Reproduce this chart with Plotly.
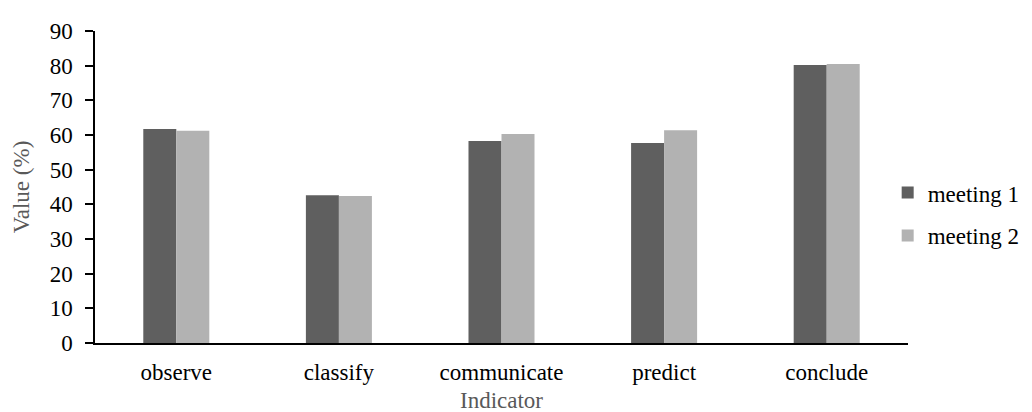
import plotly.graph_objects as go

categories = ["observe", "classify", "communicate", "predict", "conclude"]
meeting1 = [61.7, 42.6, 58.3, 57.7, 80.2]
meeting2 = [61.2, 42.4, 60.3, 61.4, 80.5]
series_names = ["meeting 1", "meeting 2"]
y_ticks = list(range(0, 91, 10))

FONT = "Liberation Serif"

fig = go.Figure()
fig.add_trace(go.Bar(x=categories, y=meeting1, name=series_names[0],
                     marker=dict(color="#5f5f5f", line=dict(width=0)),
                     legendgroup="a"))
fig.add_trace(go.Bar(x=categories, y=meeting2, name=series_names[1],
                     marker=dict(color="#b2b2b2", line=dict(width=0)),
                     legendgroup="b"))

fig.update_layout(
    width=1032, height=412,
    margin=dict(l=87, r=132, t=23, b=77, autoexpand=False),
    paper_bgcolor="white", plot_bgcolor="white",
    font=dict(family=FONT, size=23, color="black"),
    barmode="group", bargap=0.594, bargroupgap=0,
    showlegend=True,
    legend=dict(x=0.975, xanchor="left", y=0.413, yanchor="middle",
                font=dict(family=FONT, size=23, color="black"),
                tracegroupgap=10, itemwidth=30, bgcolor="rgba(0,0,0,0)"),
    xaxis=dict(
        showline=True, linecolor="black", linewidth=1.5,
        ticks="", showgrid=False, zeroline=False,
        ticklabelstandoff=8,
        tickfont=dict(family=FONT, size=23, color="black"),
        title=dict(text="Indicator", font=dict(family=FONT, size=23, color="#595959"),
                   standoff=8),
    ),
    yaxis=dict(
        range=[0, 90], tickvals=y_ticks, ticktext=[str(v) for v in y_ticks],
        showline=True, linecolor="black", linewidth=1.5,
        ticks="outside", ticklen=8, tickwidth=1.5, tickcolor="black",
        showgrid=False, zeroline=False,
        ticklabelstandoff=8,
        tickfont=dict(family=FONT, size=23, color="black"),
        title=dict(text="Value (%)", font=dict(family=FONT, size=23, color="#595959"),
                   standoff=14),
    ),
)

fig.write_html("out.html")
